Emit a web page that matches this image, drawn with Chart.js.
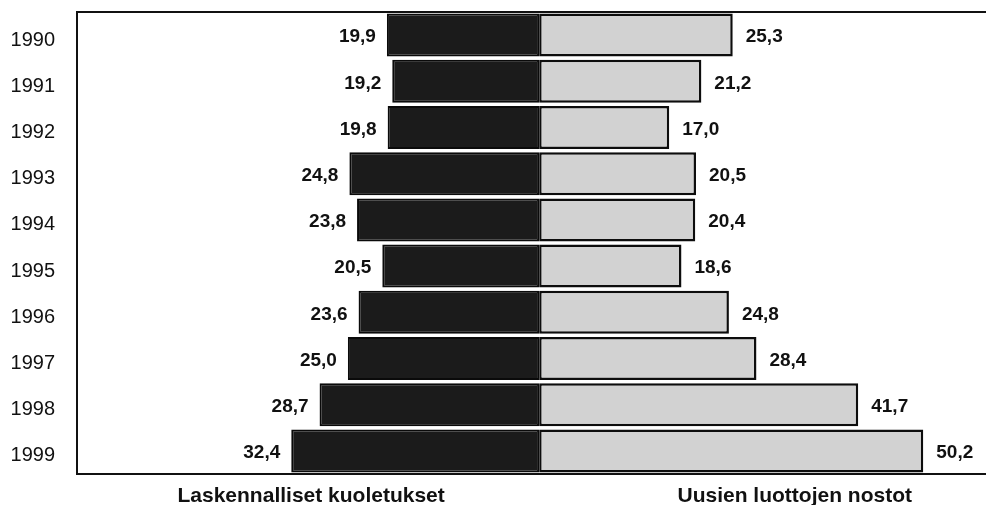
<!DOCTYPE html>
<html>
<head>
<meta charset="utf-8">
<script src="https://cdn.jsdelivr.net/npm/chart.js@4"></script>
<style>
html,body{margin:0;padding:0;background:#fff;}
#wrap{width:986px;height:505px;position:relative;}
</style>
</head>
<body>
<div id="wrap"><canvas id="c" width="986" height="505"></canvas></div>
<script>
const years = ['1990','1991','1992','1993','1994','1995','1996','1997','1998','1999'];
const laskennallisetKuoletukset = [19.9, 19.2, 19.8, 24.8, 23.8, 20.5, 23.6, 25.0, 28.7, 32.4];
const uusienLuottojenNostot = [25.3, 21.2, 17.0, 20.5, 20.4, 18.6, 24.8, 28.4, 41.7, 50.2];
const seriesNames = ['Laskennalliset kuoletukset', 'Uusien luottojen nostot'];

const fmt = v => Math.abs(v).toFixed(1).replace('.', ',');

const framePlugin = {
  id: 'frame',
  afterDatasetsDraw(chart) {
    const {ctx, chartArea: a} = chart;
    ctx.save();
    ctx.strokeStyle = '#111';
    ctx.lineWidth = 2;
    ctx.beginPath();
    ctx.moveTo(986, a.top); ctx.lineTo(a.left, a.top); ctx.lineTo(a.left, a.bottom); ctx.lineTo(986, a.bottom);
    ctx.stroke();
    // value labels
    ctx.fillStyle = '#111';
    ctx.font = 'bold 19px "Liberation Sans", Arial, sans-serif';
    ctx.textBaseline = 'middle';
    chart.data.datasets.forEach((ds, di) => {
      const meta = chart.getDatasetMeta(di);
      meta.data.forEach((bar, i) => {
        const v = ds.data[i];
        if (v < 0) { ctx.textAlign = 'right'; ctx.fillText(fmt(v), bar.x - 11, bar.y + 2); }
        else { ctx.textAlign = 'left'; ctx.fillText(fmt(v), bar.x + 13, bar.y + 2); }
      });
    });
    // series titles under the chart
    const xs = chart.scales.x;
    ctx.font = 'bold 21px "Liberation Sans", Arial, sans-serif';
    ctx.textAlign = 'center';
    ctx.textBaseline = 'middle';
    ctx.fillText(seriesNames[0], xs.getPixelForValue(-29.8), 496);
    ctx.fillText(seriesNames[1], xs.getPixelForValue(33.4), 496);
    ctx.restore();
  }
};

new Chart(document.getElementById('c'), {
  type: 'bar',
  data: {
    labels: years,
    datasets: [
      {
        label: seriesNames[0],
        data: laskennallisetKuoletukset.map(v => -v),
        backgroundColor: '#1b1b1b',
        borderColor: '#0a0a0a',
        borderWidth: 2,
        borderSkipped: false,
        categoryPercentage: 1,
        barPercentage: 0.93
      },
      {
        label: seriesNames[1],
        data: uusienLuottojenNostot,
        backgroundColor: '#d2d2d2',
        borderColor: '#0d0d0d',
        borderWidth: 2.5,
        borderSkipped: false,
        categoryPercentage: 1,
        barPercentage: 0.93
      }
    ]
  },
  options: {
    indexAxis: 'y',
    responsive: false,
    animation: false,
    layout: { padding: { top: 12, bottom: 31, left: 0, right: 0 } },
    plugins: { legend: { display: false }, tooltip: { enabled: false } },
    scales: {
      x: { display: false, stacked: true, min: -60.4, max: 58.4 },
      y: {
        stacked: true,
        grid: { display: false },
        border: { display: false },
        afterFit: s => { s.width = 77; s.paddingTop = 0; s.paddingBottom = 0; },
        ticks: {
          color: '#111',
          padding: 14,
          labelOffset: 5,
          font: { family: '"Liberation Sans", Arial, sans-serif', size: 20 }
        }
      }
    }
  },
  plugins: [framePlugin]
});
</script>
</body>
</html>
